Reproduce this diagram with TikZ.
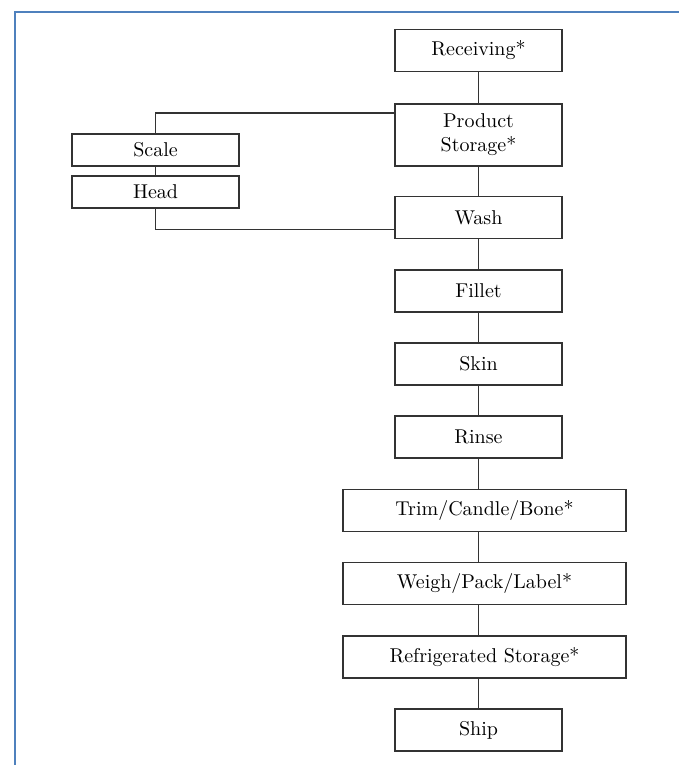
\documentclass[tikz,border=0pt]{standalone}
\usepackage{tikz}
\usetikzlibrary{calc, positioning}
\definecolor{frameblue}{RGB}{79,129,189}
\definecolor{boxline}{RGB}{51,51,51}

\tikzset{
  stepbox/.style={draw=boxline, line width=0.8pt, minimum width=83.5pt,
    minimum height=21pt, inner sep=1pt, align=center, font=\normalsize},
  widebox/.style={stepbox, minimum width=141.5pt},
  sidebox/.style={stepbox, minimum height=16pt},
  link/.style={draw=boxline, line width=0.8pt}
}

\begin{document}
\begin{tikzpicture}[x=0.5pt, y=0.5pt, node distance=36.6pt]
\useasboundingbox (0,0) rectangle (679,-765);
\draw[frameblue, line width=1.3pt] (679,-12) -- (15,-12) -- (15,-765);

% main line
\node (Recv) [stepbox] at (478.5,-50.5) {Receiving*};
\node (Prod) [stepbox, minimum height=31pt, below of=Recv, node distance=42.25pt] {Product\\Storage*};
\node (Wash) [stepbox, below of=Prod, node distance=41.25pt] {Wash};
\node (Fillet) [stepbox, below of=Wash] {Fillet};
\node (Skin) [stepbox, below of=Fillet] {Skin};
\node (Rinse) [stepbox, below of=Skin] {Rinse};
\node (Trim) [widebox, below of=Rinse, xshift=3pt] {Trim/Candle/Bone*};
\node (Weigh) [widebox, below of=Trim] {Weigh/Pack/Label*};
\node (Refrig) [widebox, below of=Weigh] {Refrigerated Storage*};
\node (Ship) [stepbox, below of=Refrig, xshift=-3pt] {Ship};

% side loop
\node (Scale) [sidebox] at (155.5,-150) {Scale};
\node (Head) [sidebox, below of=Scale, node distance=21pt] {Head};

\path[link] (Recv) -- (Prod);
\path[link] (Prod) -- (Wash);
\path[link] (Wash) -- (Fillet);
\path[link] (Fillet) -- (Skin);
\path[link] (Skin) -- (Rinse);
\path[link] (Rinse) -- (Rinse |- Trim.north);
\path[link] (Trim.south -| Rinse) -- (Weigh.north -| Rinse);
\path[link] (Weigh.south -| Rinse) -- (Refrig.north -| Rinse);
\path[link] (Refrig.south -| Ship) -- (Ship);
\path[link] ($(Prod.north west)+(0,-10)$) -| (Scale.north);
\path[link] (Scale) -- (Head);
\path[link] ($(Wash.south west)+(0,10)$) -| (Head.south);
\end{tikzpicture}
\end{document}
